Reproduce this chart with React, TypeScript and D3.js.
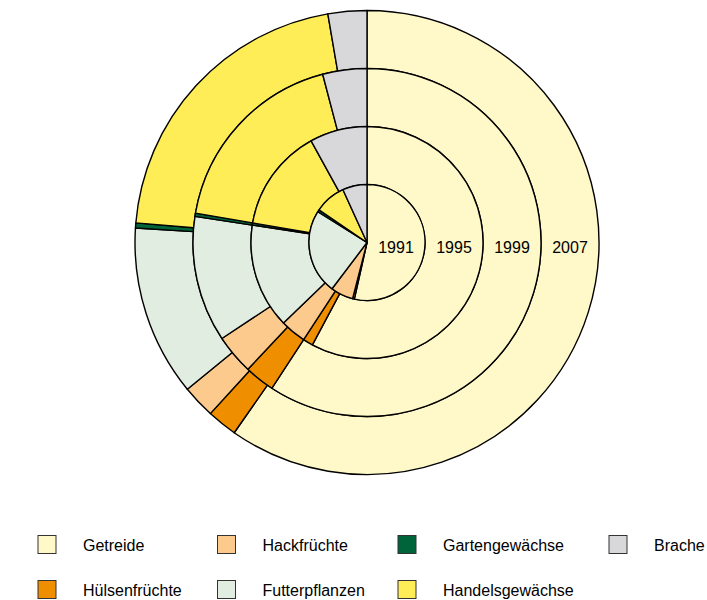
import React, { useEffect, useRef } from 'react';
import * as d3 from 'd3';

const categories = ['Getreide', 'Hülsenfrüchte', 'Hackfrüchte', 'Futterpflanzen', 'Gartengewächse', 'Handelsgewächse', 'Brache'];
const colors = ['#FFF8C8', '#EF8F00', '#FBCA8C', '#E2EDE1', '#00643A', '#FFED58', '#D8D8DA'];
const years = ['1991', '1995', '1999', '2007'];

// Anteile in %
const values1991 = [53.5, 0.5, 6.3, 23.6, 0.6, 8.7, 6.8];
const values1995 = [57.8, 1.4, 3.6, 14.6, 0.3, 14.3, 8.0];
const values1999 = [59.2, 2.8, 3.7, 11.7, 0.3, 18.2, 4.1];
const values2007 = [59.7, 2.1, 2.3, 11.9, 0.35, 20.95, 2.7];
const series = [values1991, values1995, values1999, values2007];

// Legende: Reihenfolge spaltenweise
const legendCols = [[0, 1], [2, 3], [4, 5], [6]];

const W = 707;
const H = 600;

const App: React.FC = () => {
  const svgRef = useRef<SVGSVGElement>(null);

  useEffect(() => {
    if (!svgRef.current) return;
    const svg = d3.select(svgRef.current);
    svg.selectAll('*').remove();

    const cx = 367;
    const cy = 242.5;
    const outerR = 232;

    const r = d3.scaleLinear().domain([0, years.length]).range([0, outerR]);

    const pie = d3.pie<number>().sort(null).value(d => d);

    const g = svg.append('g').attr('transform', `translate(${cx},${cy})`);

    // Ringe von außen nach innen zeichnen
    for (let i = years.length - 1; i >= 0; i--) {
      const arc = d3.arc<d3.PieArcDatum<number>>()
        .innerRadius(r(i))
        .outerRadius(r(i + 1));

      g.append('g')
        .selectAll('path')
        .data(pie(series[i]))
        .enter()
        .append('path')
        .attr('d', arc)
        .attr('fill', (d, j) => colors[j])
        .attr('stroke', '#000')
        .attr('stroke-width', 1.4)
        .attr('stroke-linejoin', 'round');
    }

    // Jahreszahlen
    g.selectAll('.year')
      .data(years)
      .enter()
      .append('text')
      .attr('class', 'year')
      .attr('x', (d, i) => (r(i) + r(i + 1)) / 2)
      .attr('y', 10)
      .attr('text-anchor', 'middle')
      .style('font-family', '"Liberation Sans", Arial, sans-serif')
      .style('font-size', '16px')
      .attr('fill', '#000')
      .text(d => d);

    // Legende
    const colX = [37.5, 217, 397.5, 608.5];
    const rowY = [535, 580];
    const legend = svg.append('g');
    legendCols.forEach((col, ci) => {
      col.forEach((k, ri) => {
        const item = legend.append('g').attr('transform', `translate(${colX[ci]},${rowY[ri]})`);
        item.append('rect')
          .attr('x', 0.5)
          .attr('y', 0.5)
          .attr('width', 18)
          .attr('height', 18)
          .attr('fill', colors[k])
          .attr('stroke', '#333')
          .attr('stroke-width', 1);
        item.append('text')
          .attr('x', 45.5)
          .attr('y', 16)
          .style('font-family', '"Liberation Sans", Arial, sans-serif')
          .style('font-size', '16px')
          .attr('fill', '#000')
          .text(categories[k]);
      });
    });
  }, []);

  return (
    <div style={{ position: 'absolute', left: 0, top: 0, width: W, height: H, background: '#fff' }}>
      <svg ref={svgRef} width={W} height={H} style={{ display: 'block' }} />
    </div>
  );
};

export default App;
